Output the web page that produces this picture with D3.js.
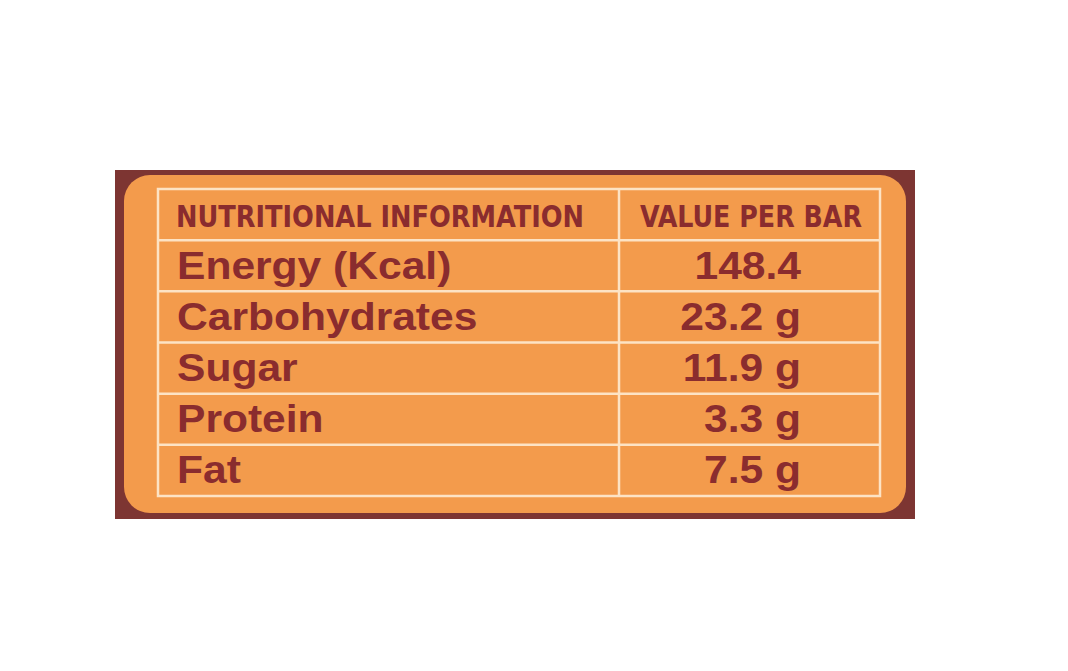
<!DOCTYPE html>
<html><head><meta charset="utf-8">
<script src="https://cdn.jsdelivr.net/npm/d3@7"></script>
<style>body{margin:0;background:#fff}</style></head>
<body><svg id="c" width="1068" height="671"></svg>
<script>
const headers = ["NUTRITIONAL INFORMATION", "VALUE PER BAR"];
const nutrients = ["Energy (Kcal)", "Carbohydrates", "Sugar", "Protein", "Fat"];
const values = ["148.4", "23.2 g", "11.9 g", "3.3 g", "7.5 g"];

const svg = d3.select("#c");
const maroon = "#7d3532", orange = "#f39b4c", text = "#8a2c2e", line = "#fde3c4";
svg.append("rect").attr("x",115).attr("y",170).attr("width",800).attr("height",349).attr("fill",maroon);
svg.append("rect").attr("x",124).attr("y",175).attr("width",782).attr("height",338).attr("rx",26).attr("fill",orange);

const rows = ["header", ...nutrients];
const y = d3.scaleBand().domain(rows).range([189, 496]).paddingInner(0);
const x0 = 158, xm = 619, x1 = 880;
const g = svg.append("g");
g.append("rect").attr("x",x0).attr("y",189).attr("width",x1-x0).attr("height",307)
 .attr("fill","none").attr("stroke",line).attr("stroke-width",2.5);
rows.slice(1).forEach(r => g.append("line").attr("x1",x0).attr("x2",x1)
  .attr("y1",y(r)).attr("y2",y(r)).attr("stroke",line).attr("stroke-width",2.5));
g.append("line").attr("x1",xm).attr("x2",xm).attr("y1",189).attr("y2",496).attr("stroke",line).attr("stroke-width",2.5);

const hy = y("header") + y.bandwidth()/2 + 12;
g.append("text").attr("x",176).attr("y",hy).text(headers[0])
 .attr("font-family","DejaVu Sans Condensed").attr("font-weight","bold").attr("font-size",31)
 .attr("fill",text).attr("textLength",408).attr("lengthAdjust","spacingAndGlyphs");
g.append("text").attr("x",640).attr("y",hy).text(headers[1])
 .attr("font-family","DejaVu Sans Condensed").attr("font-weight","bold").attr("font-size",31)
 .attr("fill",text).attr("textLength",222).attr("lengthAdjust","spacingAndGlyphs");

function stretch(sel){
  const el = sel.node(); const w = el.getComputedTextLength();
  sel.attr("textLength", w*1.12).attr("lengthAdjust","spacingAndGlyphs");
  return sel;
}
nutrients.forEach((n,i) => {
  const cy = y(n) + y.bandwidth()/2 + 13;
  stretch(g.append("text").attr("x",177).attr("y",cy).text(n)
   .attr("font-family","Liberation Sans, Arial").attr("font-weight","bold").attr("font-size",38).attr("fill",text));
  const t = g.append("text").attr("y",cy).text(values[i])
   .attr("font-family","Liberation Sans, Arial").attr("font-weight","bold").attr("font-size",38).attr("fill",text);
  const w = t.node().getComputedTextLength()*1.12;
  t.attr("x",801 - w).attr("textLength",w).attr("lengthAdjust","spacingAndGlyphs");
});
</script></body></html>
